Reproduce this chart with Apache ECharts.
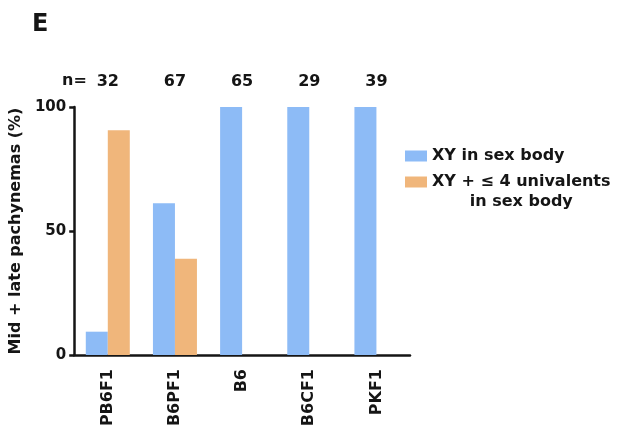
<!DOCTYPE html>
<html>
<head>
<meta charset="utf-8">
<script src="https://cdn.jsdelivr.net/npm/echarts@6/dist/echarts.min.js"></script>
<style>
  html, body { margin: 0; padding: 0; background: #fff; }
  #chart { width: 629px; height: 436px; }
</style>
</head>
<body>
<div id="chart"></div>
<script>
// Strains and the number of mid + late pachynemas scored for each
const strains = ['PB6F1', 'B6PF1', 'B6', 'B6CF1', 'PKF1'];
const nCounts = ['32', '67', '65', '29', '39'];
// Percent of nuclei in each class
const xyInSexBody = [9.4, 61.2, 100, 100, 100];
const xyPlusUnivalents = [90.6, 38.8, 0, 0, 0];
const yTicks = [0, 50, 100];

const seriesNames = ['XY in sex body', 'XY + ≤ 4 univalents in sex body'];
const FONT = '"DejaVu Sans", "Liberation Sans", Arial, sans-serif';
const INK = '#151515';

const chart = echarts.init(document.getElementById('chart'), null, { renderer: 'canvas' });

chart.setOption({
  animation: false,
  backgroundColor: '#fff',
  textStyle: { fontFamily: FONT, color: INK },
  grid: { left: 73, top: 107, width: 337, height: 248, containLabel: false },
  graphic: [
    { type: 'text', left: 32, top: 13,
      style: { text: 'E', font: 'bold 24px ' + FONT, fill: INK } },
    { type: 'text', left: 62, top: 73,
      style: { text: 'n=', font: 'bold 16px ' + FONT, fill: INK } }
  ],
  legend: {
    orient: 'vertical',
    left: 405,
    top: 146,
    padding: 0,
    itemWidth: 22,
    itemHeight: 11,
    itemGap: -14,
    icon: 'rect',
    selectedMode: false,
    textStyle: {
      fontFamily: FONT, fontWeight: 'bold', fontSize: 16, color: INK, lineHeight: 20,
      rich: {
        a: { fontFamily: FONT, fontWeight: 'bold', fontSize: 16, color: INK,
             lineHeight: 20, align: 'center' }
      }
    },
    data: [
      { name: seriesNames[0] },
      { name: seriesNames[1], textStyle: { padding: [20, 0, 0, 0] } }
    ],
    formatter: function (name) {
      if (name === seriesNames[1]) {
        return '{a|XY + ≤ 4 univalents}\n{a|in sex body}';
      }
      return name;
    }
  },
  xAxis: [
    {
      type: 'category',
      data: strains,
      position: 'bottom',
      axisLine: { lineStyle: { color: INK, width: 2.5 } },
      axisTick: { alignWithLabel: true, length: 6, lineStyle: { color: INK, width: 2.5 } },
      axisLabel: {
        rotate: 90, margin: 14, interval: 0,
        fontFamily: FONT, fontWeight: 'bold', fontSize: 16, color: INK
      }
    },
    {
      type: 'category',
      data: nCounts,
      position: 'top',
      axisLine: { show: false },
      axisTick: { show: false },
      axisLabel: {
        margin: 17, interval: 0,
        fontFamily: FONT, fontWeight: 'bold', fontSize: 16, color: INK
      }
    }
  ],
  yAxis: {
    type: 'value',
    min: yTicks[0],
    max: yTicks[yTicks.length - 1],
    interval: yTicks[1] - yTicks[0],
    name: 'Mid + late pachynemas (%)',
    nameLocation: 'middle',
    nameGap: 43,
    nameTextStyle: { fontFamily: FONT, fontWeight: 'bold', fontSize: 16, color: INK },
    splitLine: { show: false },
    axisLine: { show: true, lineStyle: { color: INK, width: 2.5 } },
    axisTick: { show: true, length: 5, lineStyle: { color: INK, width: 2.5 } },
    axisLabel: { margin: 8, fontFamily: FONT, fontWeight: 'bold', fontSize: 15, color: INK }
  },
  series: [
    {
      name: seriesNames[0],
      type: 'bar',
      data: xyInSexBody,
      barWidth: 22,
      barGap: '0%',
      itemStyle: { color: '#8dbbf6' }
    },
    {
      name: seriesNames[1],
      type: 'bar',
      data: xyPlusUnivalents,
      barWidth: 22,
      barGap: '0%',
      itemStyle: { color: '#f0b67b' }
    }
  ]
});
</script>
</body>
</html>
